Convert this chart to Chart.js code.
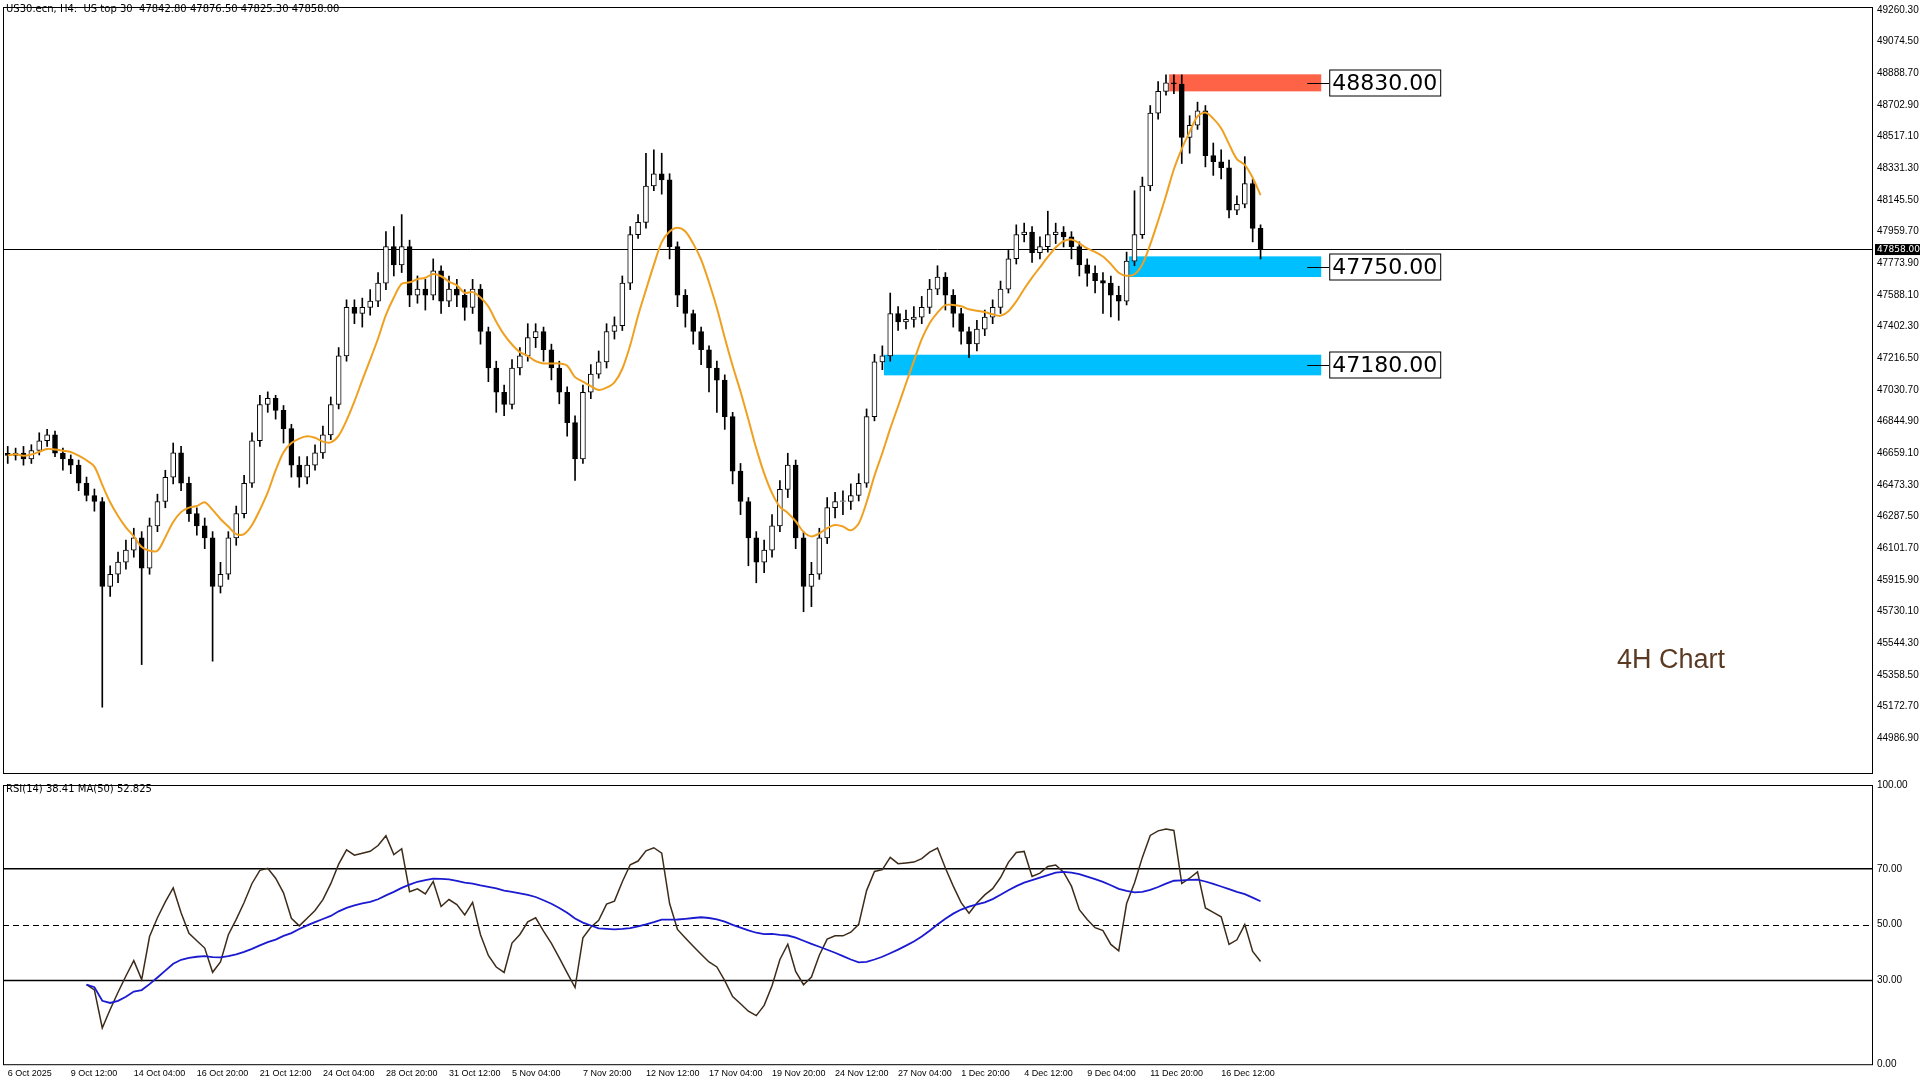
<!DOCTYPE html>
<html><head><meta charset="utf-8">
<script src="https://cdn.jsdelivr.net/npm/chart.js@4"></script>
<style>
body{margin:0;background:#fff;width:1920px;height:1080px;overflow:hidden;font-family:"Liberation Sans",sans-serif}
canvas{position:absolute;left:0}
#c1{top:0}#c2{top:778px}
</style></head><body>
<canvas id="c1" width="1920" height="780"></canvas>
<canvas id="c2" width="1920" height="302"></canvas>
<script>
// 8h bars from 6 Oct 2025, open = previous close
const closes = [46647,46661,46626,46676,46733,46768,46661,46626,46590,46484,
46412,46377,45878,45950,46021,46092,46163,45985,46234,46377,
46519,46662,46484,46306,46234,46163,45878,45950,46163,46306,
46484,46733,46946,46982,46911,46804,46590,46519,46590,46662,
46768,46946,47231,47516,47480,47516,47552,47658,47872,47765,
47872,47587,47623,47587,47730,47552,47623,47587,47516,47623,
47374,47160,47018,46946,47160,47231,47338,47374,47267,47160,
47018,46840,46626,47018,47124,47196,47374,47409,47658,47943,
48014,48228,48299,48264,47872,47587,47480,47374,47267,47160,
47089,46875,46555,46377,46163,46021,46092,46234,46448,46590,
46163,45878,45950,46163,46341,46377,46377,46412,46484,46875,
47196,47231,47480,47431,47445,47459,47516,47623,47694,47587,
47480,47374,47302,47388,47459,47516,47623,47801,47943,47958,
47836,47872,47943,47958,47929,47872,47765,47715,47673,47658,
47587,47552,47787,47943,48228,48655,48783,48833,48826,48513,
48584,48669,48406,48370,48335,48086,48121,48242,47979,47858];
const highs = [46700,46690,46700,46710,46780,46800,46790,46690,46650,46620,
46520,46450,46400,46000,46080,46150,46220,46200,46280,46420,
46560,46720,46700,46520,46340,46280,46200,46020,46200,46350,
46530,46780,47000,47020,47000,46940,46830,46640,46640,46710,
46820,46990,47280,47560,47560,47570,47620,47720,47960,47990,
48060,47910,47700,47680,47800,47760,47700,47680,47620,47680,
47650,47400,47200,47060,47210,47280,47420,47420,47400,47300,
47200,47050,46880,47060,47180,47260,47420,47460,47700,47990,
48060,48420,48440,48420,48300,47900,47620,47500,47400,47290,
47200,47120,46900,46600,46400,46200,46150,46300,46500,46660,
46620,46200,46020,46220,46400,46430,46440,46480,46540,46920,
47240,47290,47600,47520,47500,47520,47580,47680,47760,47720,
47620,47510,47400,47440,47500,47560,47670,47850,48000,48010,
47990,47930,48080,48010,47990,47960,47900,47800,47760,47720,
47700,47640,47840,48200,48280,48700,48840,48880,48880,48880,
48640,48720,48700,48480,48440,48380,48170,48400,48270,48000];
const lows = [46600,46620,46590,46600,46650,46700,46640,46560,46540,46440,
46380,46320,45170,45820,45900,45980,46050,45420,45950,46200,
46340,46480,46440,46260,46180,46100,45440,45840,45920,46120,
46280,46460,46700,46900,46860,46720,46520,46460,46480,46560,
46630,46740,46920,47200,47420,47400,47470,47520,47620,47700,
47720,47520,47540,47500,47560,47480,47520,47520,47440,47480,
47300,47080,46900,46880,46920,47120,47200,47280,47200,47090,
46950,46760,46500,46600,46980,47100,47160,47330,47380,47620,
47920,47980,48200,48180,47800,47520,47400,47300,47180,47020,
46900,46800,46480,46300,46000,45900,45960,46050,46200,46400,
46100,45730,45760,45920,46130,46280,46300,46330,46380,46460,
46850,47150,47200,47380,47390,47400,47420,47480,47590,47500,
47400,47300,47220,47260,47350,47420,47480,47600,47770,47900,
47780,47800,47840,47890,47870,47800,47700,47640,47600,47480,
47460,47440,47530,47760,47920,48200,48620,48760,48770,48360,
48420,48560,48340,48290,48270,48040,48060,48100,47900,47800];
const firstOpen = 46660;
const dateLabels = ['6 Oct 2025','9 Oct 12:00','14 Oct 04:00','16 Oct 20:00','21 Oct 12:00','24 Oct 04:00','28 Oct 20:00','31 Oct 12:00','5 Nov 04:00','7 Nov 20:00','12 Nov 12:00','17 Nov 04:00','19 Nov 20:00','24 Nov 12:00','27 Nov 04:00','1 Dec 20:00','4 Dec 12:00','9 Dec 04:00','11 Dec 20:00','16 Dec 12:00'];
const dateBars = [0,8,16,24,32,40,48,56,64,73,81,89,97,105,113,121,129,137,145,154];
const priceTicks = [44986.9,45172.7,45358.5,45544.3,45730.1,45915.9,46101.7,46287.5,46473.3,46659.1,46844.9,47030.7,47216.5,47402.3,47588.1,47773.9,47959.7,48145.5,48331.3,48517.1,48702.9,48888.7,49074.5,49260.3];
const lastPrice = 47858;
// zones: level, top, bottom, start bar
const zoneLevels = [48830, 47750, 47180];
const zoneTops = [48883, 47815, 47238];
const zoneBottoms = [48783, 47694, 47117];
const zoneStart = [147.4, 142.3, 111.2];
const zoneColors = ['#ff6347', '#00bfff', '#00bfff'];
const rsiTicks = [0,30,50,70,100];

const opens = closes.map((c,i)=> i===0 ? firstOpen : closes[i-1]);
const wickData = closes.map((c,i)=>({x:i,y:[lows[i],highs[i]]}));
const bodyData = closes.map((c,i)=>({x:i,y:[opens[i], c===opens[i]? c+4 : c]}));
const maLen = 8;
const maData = closes.map((c,i)=>{const s=closes.slice(Math.max(0,i-maLen+1),i+1);return {x:i,y:s.reduce((a,b)=>a+b,0)/s.length};});

function rsi(cl,n){const out=[null];let g=0,l=0;
  for(let i=1;i<cl.length;i++){const d=cl[i]-cl[i-1],up=Math.max(d,0),dn=Math.max(-d,0);
    if(i<=n){g+=up/n;l+=dn/n;}else{g=(g*(n-1)+up)/n;l=(l*(n-1)+dn)/n;}
    out.push(i<n?null:(l===0?100:100-100/(1+g/l)));}
  return out;}
const rsiVals = rsi(closes,10);
const rsiMa = rsiVals.map((v,i)=>{const s=rsiVals.slice(Math.max(0,i-24),i+1).filter(x=>x!==null);return s.length?s.reduce((a,b)=>a+b,0)/s.length:null;});

const XMAX = 236.6, XMIN = -0.6;
const fnt = {family:'Liberation Sans',size:10};

const frame = {id:'frame',afterDraw(ch){const a=ch.chartArea,c=ch.ctx;c.save();c.strokeStyle='#000';c.lineWidth=1;
  c.strokeRect(a.left+0.5,a.top+0.5,a.right-a.left,a.bottom-a.top);c.restore();}};

const overlay = {id:'overlay',
  beforeDatasetsDraw(ch){const c=ch.ctx,x=ch.scales.x,y=ch.scales.y,a=ch.chartArea;c.save();
    zoneLevels.forEach((lv,i)=>{c.fillStyle=zoneColors[i];
      const x0=x.getPixelForValue(zoneStart[i]),x1=x.getPixelForValue(166.7);
      c.fillRect(x0,y.getPixelForValue(zoneTops[i]),x1-x0,y.getPixelForValue(zoneBottoms[i])-y.getPixelForValue(zoneTops[i]));});
    c.strokeStyle='#000';c.lineWidth=1;const py=Math.round(y.getPixelForValue(lastPrice))+0.5;
    c.beginPath();c.moveTo(a.left,py);c.lineTo(a.right,py);c.stroke();c.restore();},
  afterDraw(ch){const c=ch.ctx,x=ch.scales.x,y=ch.scales.y,a=ch.chartArea;c.save();
    zoneLevels.forEach((lv,i)=>{const py=Math.round(y.getPixelForValue((zoneTops[i]+zoneBottoms[i])/2))+0.5;
      const xr=x.getPixelForValue(166.7);c.strokeStyle='#000';c.lineWidth=1;
      c.beginPath();c.moveTo(xr-14,py);c.lineTo(xr+8,py);c.stroke();
      c.font='22px "DejaVu Sans"';const t=lv.toFixed(2),w=c.measureText(t).width+6;
      c.fillStyle='#fff';c.fillRect(xr+8,py-13,w,26);c.strokeRect(xr+8.5,py-13.5,w,26);
      c.fillStyle='#000';c.textBaseline='middle';c.fillText(t,xr+11,py+1);});
    const py=y.getPixelForValue(lastPrice);c.fillStyle='#000';c.fillRect(a.right+3,py-5,45,11);
    c.fillStyle='#fff';c.font='9px "DejaVu Sans"';c.textBaseline='middle';c.fillText(lastPrice.toFixed(2),a.right+5,py+0.5);
    c.fillStyle='#000';c.textBaseline='top';c.font='10px "DejaVu Sans"';
    c.fillText('US30.ecn, H4:  US top 30  47842.80 47876.50 47825.30 47858.00',6,4);
    c.fillStyle='#5b3a23';c.font='27px "Liberation Sans"';c.textBaseline='middle';c.fillText('4H Chart',1617,661);
    c.restore();}};

new Chart(document.getElementById('c1'),{
  type:'bar',
  data:{datasets:[
    {type:'line',data:maData,borderColor:'#f0a020',borderWidth:2,pointRadius:0,tension:0.3,order:0},
    {data:wickData,backgroundColor:'#000',barThickness:1,grouped:false,order:2},
    {data:bodyData,grouped:false,barThickness:5,borderWidth:1,borderColor:'#000',borderSkipped:false,order:1,
     backgroundColor:ctx=>{const i=ctx.dataIndex;return closes[i]>=opens[i]?'#fff':'#000';}}
  ]},
  options:{responsive:false,animation:false,devicePixelRatio:1,
    layout:{padding:{left:3,top:2,bottom:2}},
    plugins:{legend:{display:false},tooltip:{enabled:false}},
    scales:{
      x:{type:'linear',min:XMIN,max:XMAX,offset:false,display:false},
      y:{position:'right',min:44784,max:49278,grid:{display:false,drawTicks:true,tickLength:4,tickColor:'#000'},border:{color:'#000'},
         afterBuildTicks:s=>{s.ticks=priceTicks.map(v=>({value:v}));},
         afterFit:s=>{s.width=48;},
         ticks:{color:'#000',font:fnt,padding:1,callback:v=>v.toFixed(2)}}
    }},
  plugins:[frame,overlay]});

const rsiLines = {id:'rsiLines',beforeDatasetsDraw(ch){const c=ch.ctx,y=ch.scales.y,a=ch.chartArea;c.save();c.strokeStyle='#000';
    [70,30].forEach(v=>{const py=y.getPixelForValue(v);c.lineWidth=1.6;c.beginPath();c.moveTo(a.left,py);c.lineTo(a.right,py);c.stroke();});
    const p5=Math.round(y.getPixelForValue(50))+0.5;c.lineWidth=1;c.setLineDash([6,4]);c.beginPath();c.moveTo(a.left,p5);c.lineTo(a.right,p5);c.stroke();
    c.restore();},
  afterDraw(ch){const c=ch.ctx;c.save();c.fillStyle='#000';c.font='10px "DejaVu Sans"';c.textBaseline='top';
    c.fillText('RSI(14) 38.41 MA(50) 52.825',6,6);c.restore();}};

new Chart(document.getElementById('c2'),{
  type:'line',
  data:{datasets:[
    {data:rsiVals.map((v,i)=>({x:i,y:v})),borderColor:'#3d2b1a',borderWidth:1.5,pointRadius:0,order:1},
    {data:rsiMa.map((v,i)=>({x:i,y:v})),borderColor:'#1a1ad0',borderWidth:1.8,pointRadius:0,order:0}
  ]},
  options:{responsive:false,animation:false,devicePixelRatio:1,
    layout:{padding:{left:3,top:3,bottom:0}},
    plugins:{legend:{display:false},tooltip:{enabled:false}},
    scales:{
      x:{type:'linear',min:XMIN,max:XMAX,offset:false,grid:{display:false,drawTicks:true,tickLength:3,tickColor:'#000'},border:{display:false},
         afterBuildTicks:s=>{s.ticks=dateBars.map(v=>({value:v}));},
         ticks:{color:'#000',font:{family:'Liberation Sans',size:9},maxRotation:0,autoSkip:false,align:'start',padding:1,
           callback:v=>{const k=dateBars.indexOf(v);return k<0?'':dateLabels[k];}}},
      y:{position:'right',min:0,max:100,grid:{display:false,tickLength:4,tickColor:'#000'},border:{color:'#000'},
         afterBuildTicks:s=>{s.ticks=rsiTicks.map(v=>({value:v}));},
         afterFit:s=>{s.width=48;},
         ticks:{color:'#000',font:fnt,padding:1,callback:v=>v.toFixed(2)}}
    }},
  plugins:[frame,rsiLines]});
</script></body></html>
